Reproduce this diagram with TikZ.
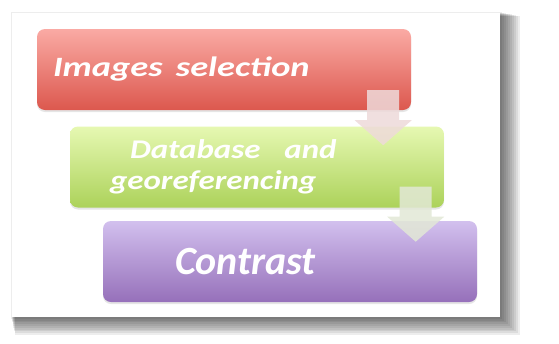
\documentclass[tikz,border=0pt]{standalone}
\usepackage{fontspec}
\setmainfont{Carlito}
\newfontfamily\widefont[FakeStretch=1.3]{Carlito}
\newfontfamily\midfont[FakeStretch=1.22]{Carlito}
\usetikzlibrary{shadows}

\definecolor{redtop}{RGB}{250,170,164}
\definecolor{redbot}{RGB}{220,88,78}
\definecolor{greentop}{RGB}{230,248,178}
\definecolor{greenbot}{RGB}{172,210,90}
\definecolor{purptop}{RGB}{210,192,238}
\definecolor{purpbot}{RGB}{150,112,186}
\definecolor{arrowA}{RGB}{238,218,218}
\definecolor{arrowB}{RGB}{226,232,214}

\tikzset{
  stepbox/.style={rounded corners=8pt, minimum width=374pt, minimum height=81pt,
    inner ysep=0pt, text=white, align=left,
    drop shadow={shadow xshift=0pt, shadow yshift=-2pt, opacity=0.2}},
  blockarrow/.style={opacity=0.85}
}

\begin{document}
\begin{tikzpicture}[x=1pt,y=-1pt]
  \useasboundingbox (0,0) rectangle (559,343);
  % card with its shadow
  \foreach \s in {1,...,10}
    \fill[black, opacity=0.07] (11+\s*0.4,12+\s*0.4) rectangle (500+\s*2,317+\s*1.8);
  \fill[white] (12,13) rectangle (500,317);

  \node[stepbox, top color=redtop, bottom color=redbot,
        text width=342pt, inner xsep=16pt, font=\widefont\fontsize{28}{30}\bfseries\itshape]
        (select) at (224,69.5) {Images\hspace{4pt} selection};
  \node[stepbox, top color=greentop, bottom color=greenbot,
        text width=294pt, inner xsep=40pt, font=\midfont\fontsize{27}{31}\bfseries\itshape]
        (georef) at (257,167) {\hspace*{20pt}Database\hspace{24pt}and\\ georeferencing};
  \node[stepbox, top color=purptop, bottom color=purpbot,
        text width=302pt, inner xsep=36pt, font=\fontsize{40}{42}\bfseries\itshape]
        (contrast) at (290,261.5) {\hspace*{36pt}Contrast};

  % block arrows
  \coordinate (a1) at ([shift={(-28,-20)}]select.south east);
  \coordinate (a2) at ([shift={(-28.5,-21)}]georef.south east);
  \foreach \a/\col in {a1/arrowA, a2/arrowB}
    \fill[blockarrow, \col] (\a) ++(-16,0) -- ++(32,0) -- ++(0,30) -- ++(12.5,0)
      -- ++(-28.5,25) -- ++(-28.5,-25) -- ++(12.5,0) -- cycle;
\end{tikzpicture}
\end{document}
